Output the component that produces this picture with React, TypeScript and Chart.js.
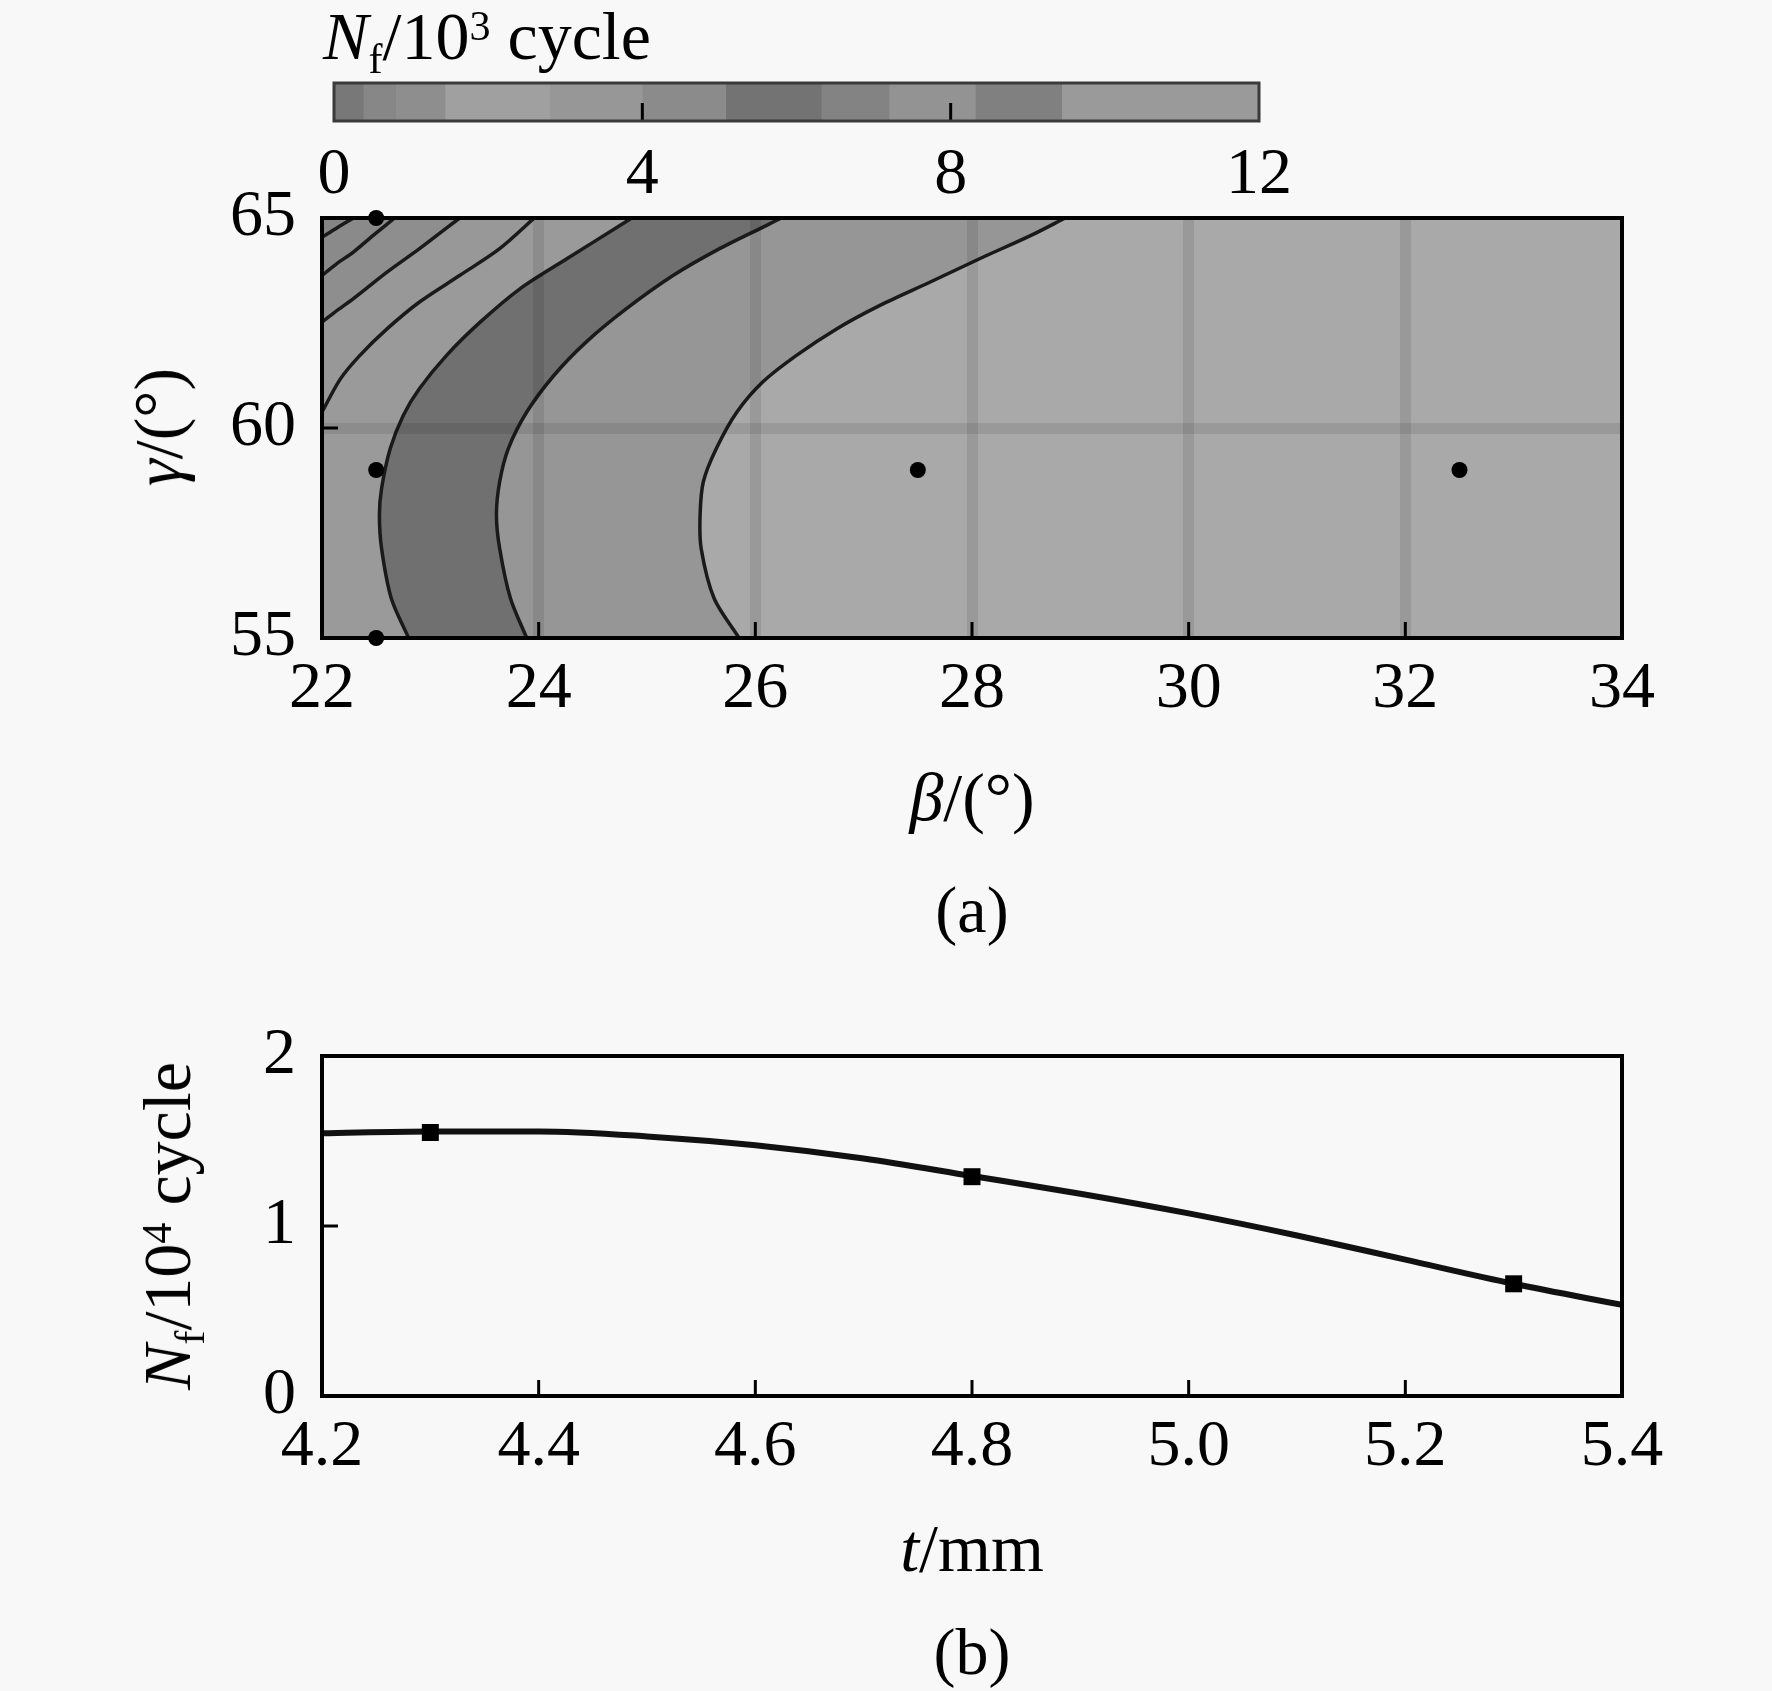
import React, { useEffect, useRef } from "react";
import { Chart, registerables } from "chart.js";
Chart.register(...registerables);

const FONT = "'Liberation Serif', 'Times New Roman', serif";
const FS = 66;
const FS_TITLE = 68;

// ---------- colour bar ----------
const cbEdges = [0, 0.38, 0.8, 1.44, 2.8, 4.0, 5.08, 6.32, 7.2, 8.32, 9.44, 12];
const cbGrays = ["#787878", "#878787", "#8e8e8e", "#a0a0a0", "#979797", "#8b8b8b", "#737373", "#838383", "#939393", "#808080", "#9a9a9a"];
const cbTickVals = [0, 4, 8, 12];

// ---------- panel (a): contour lines [beta, gamma] ----------
const contourA: [number, number][] = [[22, 64.54], [22.14, 64.77], [22.29, 65]];
const contourB: [number, number][] = [[22, 63.63], [22.14, 63.92], [22.29, 64.19], [22.47, 64.58], [22.67, 65]];
const contourC: [number, number][] = [[22, 62.52], [22.14, 62.8], [22.29, 63.08], [22.6, 63.71], [22.9, 64.27], [23.27, 65]];
const contourD: [number, number][] = [[22, 60.38], [22.17, 61.17], [22.35, 61.73], [22.6, 62.36], [22.9, 63.0], [23.27, 63.63], [23.64, 64.27], [23.96, 65]];
const contourE: [number, number][] = [[22.8, 55], [22.64, 55.94], [22.55, 57.13], [22.53, 57.93], [22.55, 58.56], [22.63, 59.51], [22.75, 60.3], [22.9, 60.94], [23.15, 61.73], [23.46, 62.52], [23.83, 63.32], [24.26, 64.03], [24.75, 64.82], [24.86, 65]];
const contourF: [number, number][] = [[23.89, 55], [23.74, 55.94], [23.64, 57.13], [23.61, 57.93], [23.64, 58.72], [23.72, 59.51], [23.89, 60.38], [24.14, 61.25], [24.44, 62.05], [24.81, 62.84], [25.24, 63.63], [25.67, 64.27], [26.1, 64.82], [26.24, 65]];
const contourG: [number, number][] = [[25.85, 55], [25.62, 55.94], [25.5, 57.13], [25.49, 57.93], [25.52, 58.72], [25.64, 59.51], [25.83, 60.38], [26.07, 61.1], [26.38, 61.73], [26.75, 62.36], [27.15, 62.92], [27.61, 63.47], [28.07, 64.03], [28.54, 64.58], [28.86, 65]];
const contours = [contourA, contourB, contourC, contourD, contourE, contourF, contourG];
// fill grey of the corner region, then of the region right of each contour
const bandGrays = ["#858585", "#8a8a8a", "#8e8e8e", "#989898", "#9a9a9a", "#707070", "#969696", "#a9a9a9"];
const designBeta = [22.5, 22.5, 22.5, 27.5, 32.5];
const designGamma = [65, 59, 55, 59, 59];
const betaTicks = [22, 24, 26, 28, 30, 32, 34];
const gammaTicks = [55, 60, 65];

// ---------- panel (b) ----------
const tCurve = [4.2, 4.3, 4.4, 4.5, 4.6, 4.7, 4.8, 4.9, 5.0, 5.1, 5.2, 5.3, 5.4];
const nfCurve = [1.545, 1.556, 1.556, 1.527, 1.475, 1.397, 1.294, 1.19, 1.074, 0.944, 0.802, 0.66, 0.536];
const tPoints = [4.3, 4.8, 5.3];
const nfPoints = [1.55, 1.29, 0.66];
const tTicks = [4.2, 4.4, 4.6, 4.8, 5.0, 5.2, 5.4];
const nfTicks = [0, 1, 2];

const tickFont = { family: FONT, size: FS };

function framePlugin(id: string, xTicks: number[], yTicks: number[], len: number) {
  return {
    id,
    afterDraw(chart: any) {
      const { ctx, chartArea: a, scales } = chart;
      ctx.save();
      ctx.strokeStyle = "#000";
      ctx.lineWidth = 3;
      ctx.beginPath();
      xTicks.forEach((v) => {
        const px = scales.x.getPixelForValue(v);
        ctx.moveTo(px, a.bottom);
        ctx.lineTo(px, a.bottom - len);
      });
      yTicks.forEach((v) => {
        const py = scales.y.getPixelForValue(v);
        ctx.moveTo(a.left, py);
        ctx.lineTo(a.left + len, py);
      });
      ctx.stroke();
      ctx.lineWidth = 4;
      ctx.strokeRect(a.left, a.top, a.right - a.left, a.bottom - a.top);
      ctx.restore();
    },
  };
}

const cbFrame = {
  id: "cbFrame",
  afterDraw(chart: any) {
    const { ctx, chartArea: a, scales } = chart;
    ctx.save();
    ctx.strokeStyle = "#000";
    ctx.lineWidth = 3;
    ctx.beginPath();
    [4, 8].forEach((v) => {
      const px = scales.x.getPixelForValue(v);
      ctx.moveTo(px, a.bottom);
      ctx.lineTo(px, a.bottom - 18);
    });
    ctx.stroke();
    ctx.strokeStyle = "#3a3a3a";
    ctx.lineWidth = 3;
    ctx.strokeRect(a.left, a.top, a.right - a.left, a.bottom - a.top);
    ctx.restore();
  },
};

function colorbarConfig(): any {
  return {
    type: "bar",
    data: {
      labels: ["Nf"],
      datasets: cbGrays.map((g, i) => ({
        data: [[cbEdges[i], cbEdges[i + 1]]],
        backgroundColor: g,
        borderWidth: 0,
        barPercentage: 1,
        categoryPercentage: 1,
        grouped: false,
      })),
    },
    options: {
      indexAxis: "y",
      responsive: false,
      animation: false,
      devicePixelRatio: 1,
      events: [],
      layout: { padding: { left: 334, right: 513, top: 83, bottom: 0 } },
      plugins: { legend: { display: false }, tooltip: { enabled: false } },
      scales: {
        y: { display: false },
        x: {
          type: "linear",
          min: 0,
          max: 12,
          afterFit: (s: any) => { s.height = 99; },
          grid: { display: false, drawTicks: false },
          border: { display: false },
          ticks: {
            stepSize: 4,
            padding: 15,
            color: "#000",
            font: tickFont,
            callback: (v: any) => (cbTickVals.includes(Number(v)) ? String(v) : ""),
          },
        },
      },
    },
    plugins: [cbFrame],
  };
}

function closeRight(pts: [number, number][]): [number, number][] {
  const first = pts[0];
  if (first[0] === 22 && first[1] > 55) {
    // contour runs from left edge to top edge
    return [...pts, [34, 65], [34, 55], [22, 55]];
  }
  return [...pts, [34, 65], [34, 55]];
}

function contourConfig(): any {
  const xy = (p: [number, number][]) => p.map(([x, y]) => ({ x, y }));
  const datasets: any[] = [];
  datasets.push({
    data: xy([[22, 55], [22, 65], [34, 65], [34, 55]]),
    fill: "shape",
    backgroundColor: bandGrays[0],
    borderColor: "transparent",
    borderWidth: 0,
    pointRadius: 0,
    tension: 0,
    order: 100,
  });
  contours.forEach((c, i) => {
    datasets.push({
      data: xy(closeRight(c)),
      fill: "shape",
      backgroundColor: bandGrays[i + 1],
      borderColor: "transparent",
      borderWidth: 0,
      pointRadius: 0,
      tension: 0,
      order: 99 - i,
    });
  });
  contours.forEach((c) => {
    datasets.push({
      data: xy(c),
      fill: false,
      borderColor: "#1a1a1a",
      borderWidth: 3.5,
      pointRadius: 0,
      tension: 0.3,
      order: 10,
    });
  });
  datasets.push({
    data: designBeta.map((b, i) => ({ x: b, y: designGamma[i] })),
    showLine: false,
    pointRadius: 8,
    pointBackgroundColor: "#000",
    pointBorderColor: "#000",
    pointBorderWidth: 0,
    clip: false,
    order: 1,
  });
  const band = (lo: number, hi: number) => (c: any) =>
    c.tick && c.tick.value > lo && c.tick.value < hi ? "rgba(0,0,0,0.09)" : "rgba(0,0,0,0)";
  return {
    type: "line",
    data: { datasets },
    options: {
      responsive: false,
      animation: false,
      devicePixelRatio: 1,
      events: [],
      layout: { padding: { left: 0, right: 150, top: 68, bottom: 0 } },
      plugins: { legend: { display: false }, tooltip: { enabled: false } },
      scales: {
        x: {
          type: "linear",
          min: 22,
          max: 34,
          afterFit: (s: any) => { s.height = 112; },
          grid: { z: 1, drawTicks: false, lineWidth: 11, color: band(22, 34) },
          border: { display: false },
          ticks: { stepSize: 2, padding: 12, color: "#000", font: tickFont, autoSkip: false },
        },
        y: {
          type: "linear",
          min: 55,
          max: 65,
          afterFit: (s: any) => { s.width = 322; },
          grid: { z: 1, drawTicks: false, lineWidth: 11, color: band(55, 65) },
          border: { display: false },
          ticks: { stepSize: 5, padding: 26, color: "#000", font: tickFont },
        },
      },
    },
    plugins: [framePlugin("frameA", betaTicks, gammaTicks, 16)],
  };
}

function lineConfig(): any {
  return {
    type: "line",
    data: {
      datasets: [
        {
          data: tPoints.map((t, i) => ({ x: t, y: nfPoints[i] })),
          showLine: false,
          pointStyle: "rect",
          pointRadius: 12,
          pointBackgroundColor: "#000",
          pointBorderColor: "#000",
          pointBorderWidth: 0,
          order: 1,
        },
        {
          data: tCurve.map((t, i) => ({ x: t, y: nfCurve[i] })),
          borderColor: "#111",
          borderWidth: 6,
          pointRadius: 0,
          fill: false,
          cubicInterpolationMode: "monotone",
          order: 2,
        },
      ],
    },
    options: {
      responsive: false,
      animation: false,
      devicePixelRatio: 1,
      events: [],
      layout: { padding: { left: 0, right: 150, top: 70, bottom: 0 } },
      plugins: { legend: { display: false }, tooltip: { enabled: false } },
      scales: {
        x: {
          type: "linear",
          min: 4.2,
          max: 5.4,
          afterFit: (s: any) => { s.height = 104; },
          grid: { display: false, drawTicks: false },
          border: { display: false },
          ticks: {
            stepSize: 0.2,
            padding: 12,
            color: "#000",
            font: tickFont,
            autoSkip: false,
            callback: (v: any) => Number(v).toFixed(1),
          },
        },
        y: {
          type: "linear",
          min: 0,
          max: 2,
          afterFit: (s: any) => { s.width = 322; },
          grid: { display: false, drawTicks: false },
          border: { display: false },
          ticks: { stepSize: 1, padding: 26, color: "#000", font: tickFont },
        },
      },
    },
    plugins: [framePlugin("frameB", tTicks, nfTicks, 16)],
  };
}

function Label(props: { x: number; y: number; size?: number; rotate?: boolean; children: React.ReactNode }) {
  return (
    <div
      style={{
        position: "absolute",
        left: props.x,
        top: props.y,
        transform: `translate(-50%, -50%)${props.rotate ? " rotate(-90deg)" : ""}`,
        whiteSpace: "nowrap",
        fontFamily: FONT,
        fontSize: props.size || FS,
        lineHeight: 1,
        color: "#000",
      }}
    >
      {props.children}
    </div>
  );
}

const subStyle: React.CSSProperties = { fontSize: "0.62em", verticalAlign: "-0.33em", lineHeight: 0 };
const supStyle: React.CSSProperties = { fontSize: "0.62em", verticalAlign: "0.45em", lineHeight: 0 };

export default function App() {
  const cbRef = useRef<HTMLCanvasElement>(null);
  const aRef = useRef<HTMLCanvasElement>(null);
  const bRef = useRef<HTMLCanvasElement>(null);

  useEffect(() => {
    const charts: Chart[] = [];
    if (cbRef.current) charts.push(new Chart(cbRef.current, colorbarConfig()));
    if (aRef.current) charts.push(new Chart(aRef.current, contourConfig()));
    if (bRef.current) charts.push(new Chart(bRef.current, lineConfig()));
    return () => charts.forEach((c) => c.destroy());
  }, []);

  return (
    <div
      style={{
        position: "absolute",
        left: 0,
        top: 0,
        width: 1772,
        height: 1691,
        background: "#f8f8f8",
        overflow: "hidden",
      }}
    >
      <canvas ref={cbRef} width={1772} height={220} style={{ position: "absolute", left: 0, top: 0, width: 1772, height: 220 }} />
      <canvas ref={aRef} width={1772} height={600} style={{ position: "absolute", left: 0, top: 150, width: 1772, height: 600 }} />
      <canvas ref={bRef} width={1772} height={514} style={{ position: "absolute", left: 0, top: 986, width: 1772, height: 514 }} />

      <Label x={487} y={36} size={FS_TITLE}>
        <i>N</i>
        <sub style={subStyle}>f</sub>/10<sup style={supStyle}>3</sup> cycle
      </Label>
      <Label x={158} y={427} rotate size={FS_TITLE}>
        <i>γ</i>/(°)
      </Label>
      <Label x={972} y={797} size={FS_TITLE}>
        <i>β</i>/(°)
      </Label>
      <Label x={972} y={910}>(a)</Label>

      <Label x={167} y={1226} rotate size={FS_TITLE}>
        <i>N</i>
        <sub style={subStyle}>f</sub>/10<sup style={supStyle}>4</sup> cycle
      </Label>
      <Label x={972} y={1548} size={FS_TITLE}>
        <i>t</i>/mm
      </Label>
      <Label x={972} y={1652}>(b)</Label>
    </div>
  );
}
